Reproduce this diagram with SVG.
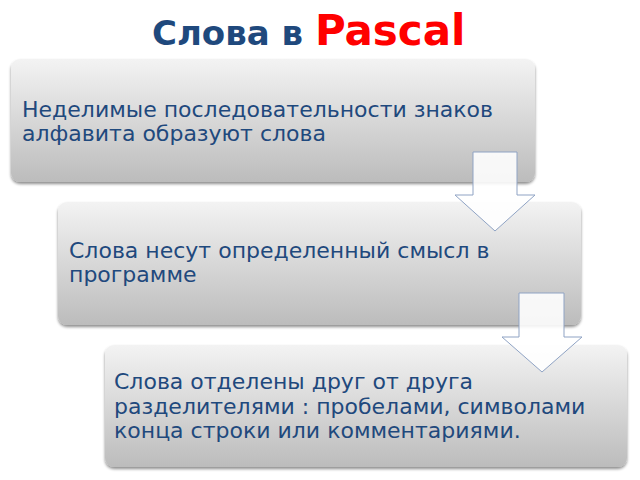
<svg xmlns="http://www.w3.org/2000/svg" width="640" height="480" viewBox="0 0 640 480">
<defs>
<linearGradient id="boxGrad" x1="0" y1="0" x2="0" y2="1">
<stop offset="0" stop-color="#f3f3f3"/>
<stop offset="1" stop-color="#bcbcbc"/>
</linearGradient>
<filter id="shadow" x="-5%" y="-5%" width="110%" height="120%">
<feGaussianBlur in="SourceAlpha" stdDeviation="1.5"/>
<feOffset dx="0" dy="2" result="b"/>
<feComponentTransfer><feFuncA type="linear" slope="0.45"/></feComponentTransfer>
<feMerge><feMergeNode/><feMergeNode in="SourceGraphic"/></feMerge>
</filter>
</defs>
<style>
.box{fill:url(#boxGrad);filter:url(#shadow);}
.txt{font-family:"DejaVu Sans",Verdana,sans-serif;font-size:22px;fill:#1f497d;}
.arrow{fill:#ffffff;fill-opacity:0.88;stroke:#8fa3c4;stroke-width:1;}
.title{font-family:"DejaVu Sans",Verdana,sans-serif;font-weight:bold;}
</style>
<rect width="640" height="480" fill="#ffffff"/>
<g id="title">
<text x="152" y="45" class="title" font-size="34" fill="#1f497d">Слова в <tspan fill="#ff0000" font-size="42">Pascal</tspan></text>
</g>
<g id="node1">
<rect class="box" x="11" y="59" width="524" height="123" rx="9"/>
<text class="txt" x="22" y="117">Неделимые последовательности знаков</text>
<text class="txt" x="22" y="141">алфавита образуют слова</text>
</g>
<g id="node2">
<rect class="box" x="58" y="202" width="523" height="123" rx="9"/>
<text class="txt" x="69" y="258">Слова несут определенный смысл в</text>
<text class="txt" x="69" y="282">программе</text>
</g>
<g id="node3">
<rect class="box" x="105" y="345" width="522" height="122" rx="9"/>
<text class="txt" x="114" y="389">Слова отделены друг от друга</text>
<text class="txt" x="114" y="414">разделителями : пробелами, символами</text>
<text class="txt" x="114" y="438">конца строки или комментариями.</text>
</g>
<g id="connectors">
<path class="arrow" d="M473,152 H517 V195 H535 L495,231 L455,195 H473 Z"/>
<path class="arrow" d="M519,293 H564 V337 H582 L542,372 L502,337 H519 Z"/>
</g>
</svg>
